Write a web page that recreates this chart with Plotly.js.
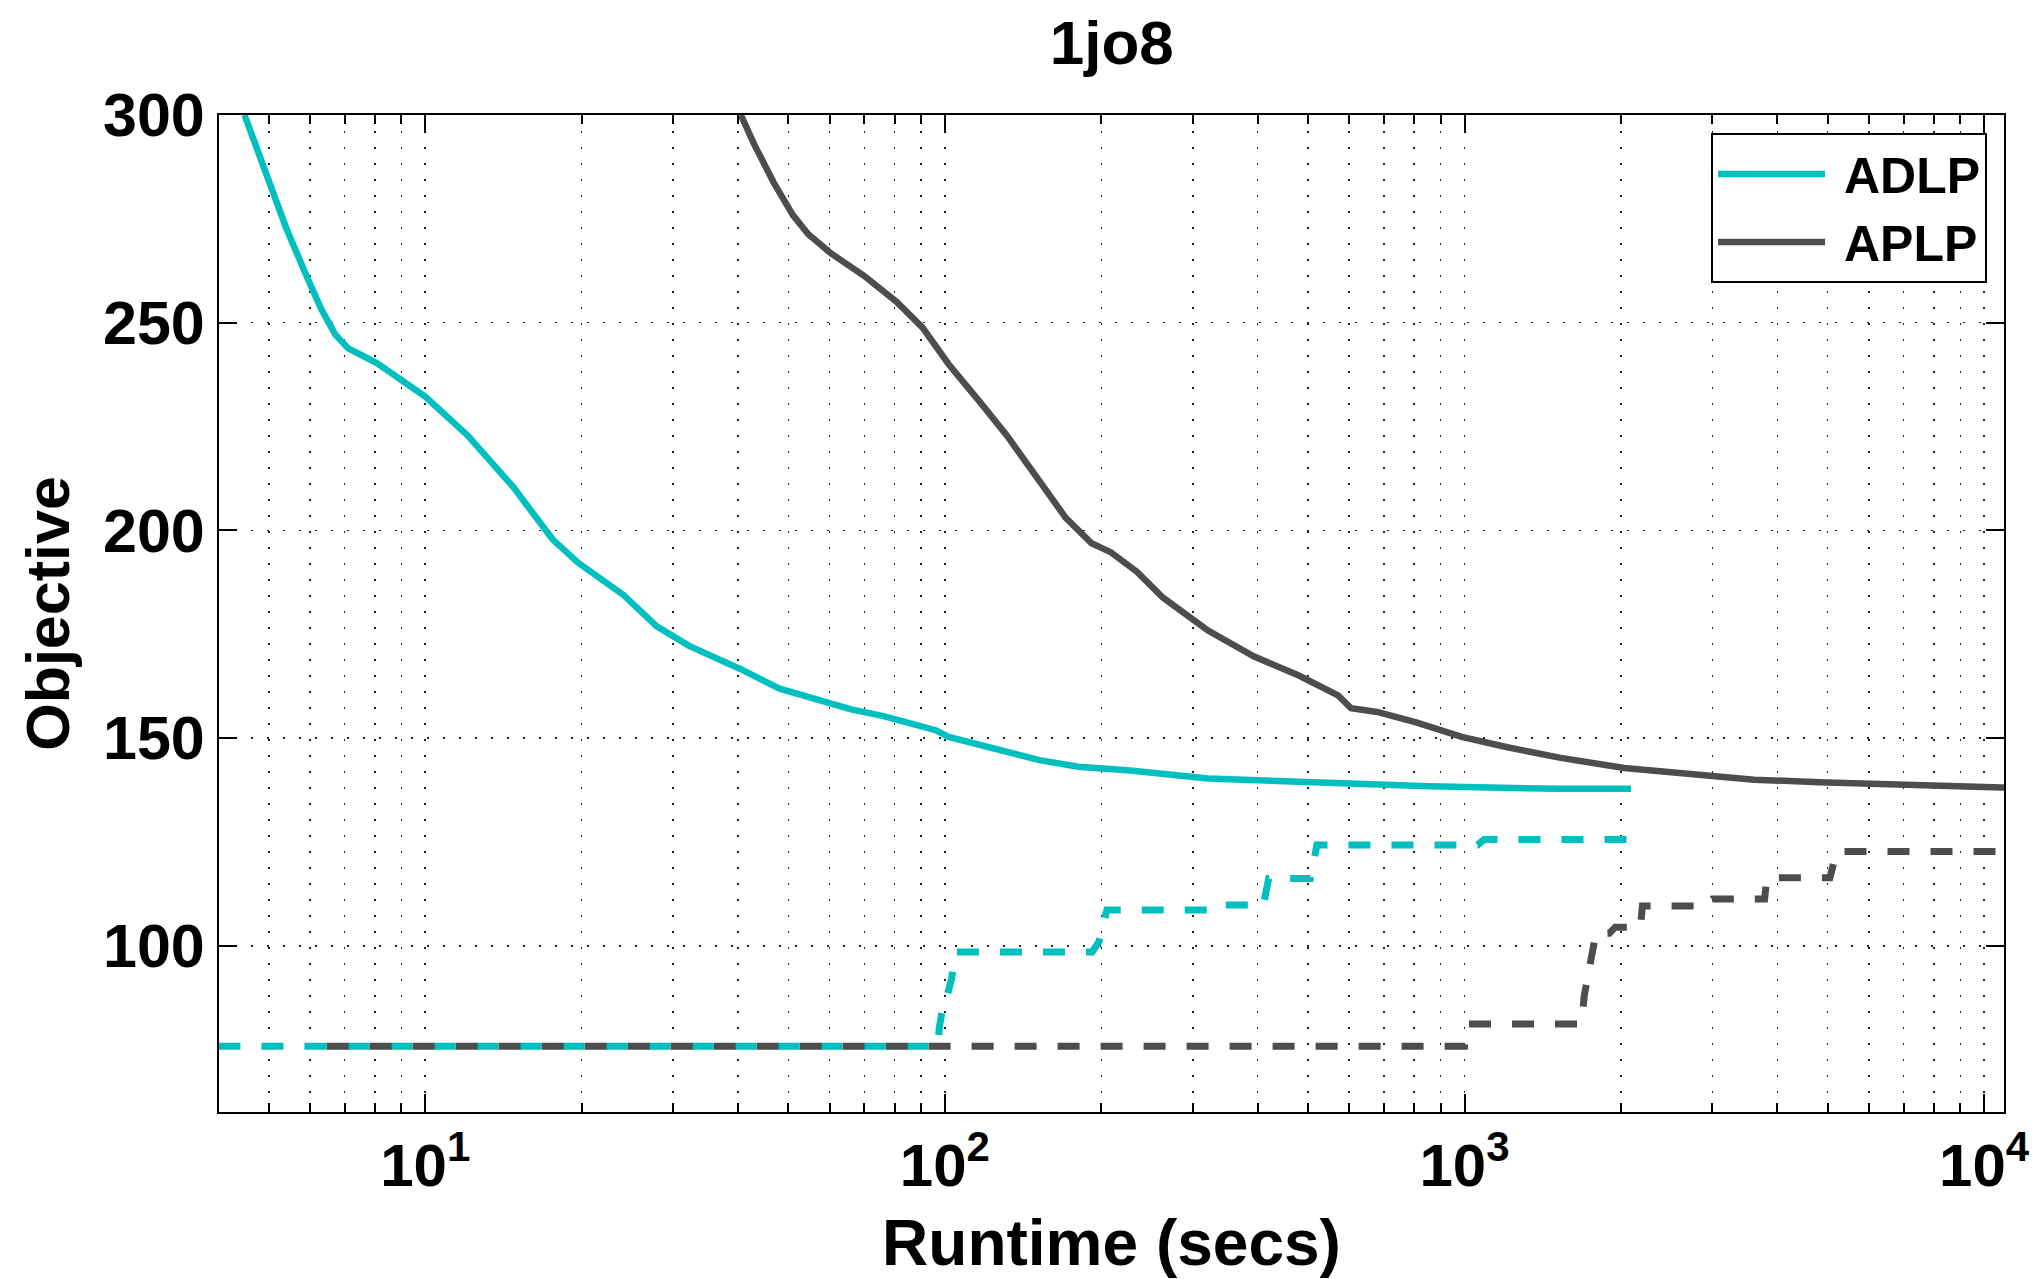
<!DOCTYPE html>
<html>
<head>
<meta charset="utf-8">
<script src="https://cdn.plot.ly/plotly-3.0.1.min.js"></script>
<style>html,body{margin:0;padding:0;background:#fff;}#chart{width:2038px;height:1279px;}</style>
</head>
<body>
<div id="chart"></div>
<script>
// ADLP upper (solid)
const adlpX = [4.49, 4.95, 5.40, 5.88, 6.30, 6.71, 7.11, 8.07, 8.80, 10.0, 12.08, 14.8, 17.6, 19.7, 24.1, 27.9, 32.2, 40.5, 48.1, 55.6, 66.0, 76.2, 96.0, 101.7, 120.8, 152, 180.7, 227.5, 321, 481, 855, 1523, 2091];
const adlpY = [300, 285.3, 272.8, 261.9, 253.4, 247.2, 243.8, 240.3, 236.9, 232.2, 222.8, 210.3, 197.8, 192.2, 184.4, 176.9, 172.2, 166.6, 161.9, 159.7, 156.9, 155.3, 151.9, 150.3, 147.8, 144.7, 143.1, 142.2, 140.3, 139.4, 138.4, 137.8, 137.8];
// ADLP lower (dashed)
const adlpLowX = [4.0, 97, 97.5, 99, 101, 103, 105, 192, 198, 202, 205, 320, 328, 410, 415, 420, 505, 512, 520, 1060, 1090, 2090];
const adlpLowY = [75.8, 75.8, 80, 85, 88, 92, 98.5, 98.5, 101, 106, 108.6, 108.6, 109.8, 109.8, 113, 116.2, 116.2, 120, 124.3, 124.3, 125.6, 125.6];
// APLP upper (solid)
const aplpX = [40.5, 42.9, 46.8, 51.0, 54.6, 60.5, 69.9, 80.8, 90.6, 101.7, 117.4, 131.7, 152, 170.7, 191.6, 208.9, 234.4, 263, 321, 393, 481, 571, 605, 679, 807, 988, 1209, 1523, 2030, 2705, 3606, 4817, 6429, 10790, 11000];
const aplpY = [300, 293.1, 283.8, 275.9, 271.3, 266.6, 261.3, 255, 248.8, 240, 230.6, 222.8, 211.9, 203.1, 196.9, 194.7, 190, 183.8, 175.9, 169.7, 165, 160.3, 157.2, 156.3, 153.8, 150.3, 147.8, 145.3, 142.8, 141.3, 140, 139.4, 138.8, 138.1, 138.1];
// APLP lower (dashed)
const aplpLowX = [6.46, 1000, 1005, 1020, 1660, 1680, 1700, 1730, 1760, 1790, 1900, 1950, 2180, 2200, 2900, 3000, 3780, 3820, 5050, 5120, 5200, 11000];
const aplpLowY = [75.8, 75.8, 79, 81.2, 81.2, 81.5, 88, 94, 99, 103, 103, 104.5, 104.5, 109.6, 109.6, 111.3, 111.3, 116.4, 116.4, 119, 122.7, 122.7];

const seriesNames = ['ADLP', 'APLP'];
const xMajor = [10, 100, 1000, 10000];
const xMajorText = ['10<sup>1</sup>', '10<sup>2</sup>', '10<sup>3</sup>', '10<sup>4</sup>'];
const xMinor = [5, 6, 7, 8, 9, 20, 30, 40, 50, 60, 70, 80, 90, 200, 300, 400, 500, 600, 700, 800, 900, 2000, 3000, 4000, 5000, 6000, 7000, 8000, 9000];

const cyan = '#00bfbf';
const gray = '#4d4d4d';
const LW = 6.5;
const LWD = 7;
const dashPat = '22px,21px';
const fontFam = 'Liberation Sans, Arial, Helvetica, sans-serif';

const traces = [
  {x: adlpLowX, y: adlpLowY, mode: 'lines', line: {color: cyan, width: LWD, dash: dashPat}, showlegend: false, hoverinfo: 'skip'},
  {x: aplpLowX, y: aplpLowY, mode: 'lines', line: {color: gray, width: LWD, dash: dashPat}, showlegend: false, hoverinfo: 'skip'},
  {x: adlpX, y: adlpY, mode: 'lines', name: '\u00a0' + seriesNames[0], line: {color: cyan, width: LW}},
  {x: aplpX, y: aplpY, mode: 'lines', name: '\u00a0' + seriesNames[1], line: {color: gray, width: LW}}
];

const gridDash = '2px,14px';
const layout = {
  width: 2038, height: 1279,
  paper_bgcolor: '#fff', plot_bgcolor: '#fff',
  margin: {l: 219, r: 34, t: 115, b: 167},
  font: {family: fontFam, size: 61, color: '#000', weight: 700},
  title: {text: '1jo8', font: {family: fontFam, size: 62, weight: 700, color: '#000'}, x: 0.5455, xanchor: 'center', y: 1 - 42/1279, yanchor: 'middle', yref: 'container'},
  xaxis: {
    type: 'log',
    range: [Math.log10(4.01), Math.log10(10920)],
    tickmode: 'array', tickvals: xMajor, ticktext: xMajorText,
    ticks: 'inside', ticklen: 18, tickwidth: 2, tickcolor: '#000',
    showline: true, linecolor: '#000', linewidth: 2, mirror: 'ticks',
    showgrid: true, gridcolor: '#222', gridwidth: 1.5, griddash: gridDash,
    zeroline: false,
    tickfont: {family: fontFam, size: 60, weight: 700, color: '#000'},
    minor: {tickmode: 'array', tickvals: xMinor, ticks: 'inside', ticklen: 9, tickwidth: 2, tickcolor: '#000', showgrid: true, gridcolor: '#222', gridwidth: 1.5, griddash: gridDash},
    title: {text: 'Runtime (secs)', font: {family: fontFam, size: 64, weight: 700, color: '#000'}, standoff: 28}
  },
  yaxis: {
    range: [60, 300], dtick: 50, tick0: 0,
    ticks: 'inside', ticklen: 18, tickwidth: 2, tickcolor: '#000',
    showline: true, linecolor: '#000', linewidth: 2, mirror: 'ticks',
    showgrid: true, gridcolor: '#222', gridwidth: 1.5, griddash: gridDash,
    zeroline: false,
    tickfont: {family: fontFam, size: 61, weight: 700, color: '#000'},
    title: {text: 'Objective', font: {family: fontFam, size: 61, weight: 700, color: '#000'}, standoff: 14}
  },
  legend: {
    x: 0.9905, xanchor: 'right', y: 0.982, yanchor: 'top',
    bgcolor: '#fff', bordercolor: '#000', borderwidth: 2,
    font: {family: fontFam, size: 50, weight: 700, color: '#000'},
    itemwidth: 107, tracegroupgap: 0
  },
  showlegend: true
};

Plotly.newPlot('chart', traces, layout, {displayModeBar: false, staticPlot: true});
</script>
</body>
</html>
